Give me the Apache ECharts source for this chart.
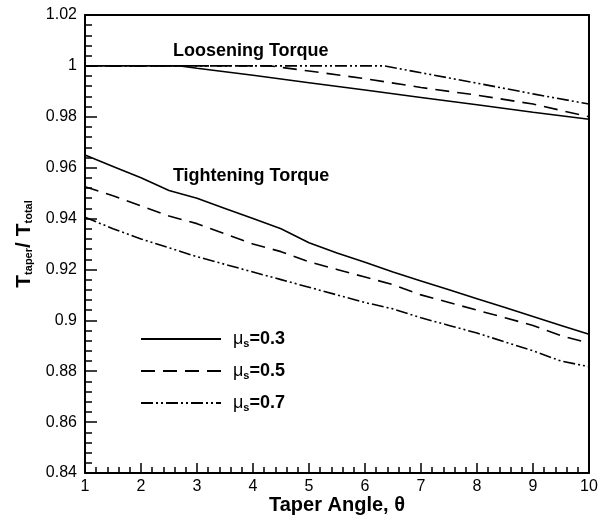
<!DOCTYPE html>
<html><head><meta charset="utf-8">
<script src="https://cdn.jsdelivr.net/npm/echarts@6/dist/echarts.min.js"></script>
<style>html,body{margin:0;padding:0;background:#fff}#c{width:606px;height:524px}</style>
</head><body><div id="c"></div>
<script>
// ---- data ----
var tightX = [1, 1.5, 2, 2.5, 3, 3.5, 4, 4.5, 5, 5.5, 6, 6.5, 7, 7.5, 8, 8.5, 9, 9.5, 10];
var tight03 = [0.965, 0.9605, 0.956, 0.951, 0.948, 0.944, 0.940, 0.936, 0.9305, 0.9265, 0.9228, 0.919, 0.9155, 0.912, 0.9085, 0.905, 0.9015, 0.898, 0.8945];
var tight05 = [0.9525, 0.949, 0.945, 0.941, 0.938, 0.934, 0.930, 0.927, 0.923, 0.920, 0.917, 0.914, 0.910, 0.907, 0.904, 0.901, 0.898, 0.894, 0.891];
var tight07 = [0.9405, 0.936, 0.932, 0.9285, 0.925, 0.922, 0.919, 0.916, 0.913, 0.910, 0.907, 0.9045, 0.901, 0.898, 0.895, 0.8915, 0.888, 0.884, 0.8818];
var looseX03 = [1, 2, 2.7, 3, 4, 5, 6, 7, 8, 9, 10];
var loose03 = [1, 1, 1, 0.9991, 0.9963, 0.9934, 0.9905, 0.9876, 0.9847, 0.9818, 0.979];
var looseX05 = [1, 2, 3, 4, 4.3, 5, 6, 7, 8, 9, 10];
var loose05 = [1, 1, 1, 1, 1, 0.998, 0.995, 0.9915, 0.9885, 0.985, 0.980];
var looseX07 = [1, 2, 3, 4, 5, 6, 6.35, 7, 8, 9, 10];
var loose07 = [1, 1, 1, 1, 1, 1, 1, 0.9973, 0.9932, 0.989, 0.985];
var seriesNames = ['\u03bcs=0.3', '\u03bcs=0.5', '\u03bcs=0.7'];
var legendLabels = ['0.3', '0.5', '0.7'];
var xMin = 1, xMax = 10, xStep = 1;
var yMin = 0.84, yMax = 1.02, yStep = 0.02;
var annotations = [
  {text: 'Loosening Torque', x: 2.57, y: 1.0055},
  {text: 'Tightening Torque', x: 2.57, y: 0.9565}
];
// ---- chart ----
function zip(xs, ys){ return xs.map(function(x,i){ return [x, ys[i]]; }); }
var dashTypes = ['solid', [14, 8], [12, 3, 2, 3, 2, 3]];
var FONT = '"Liberation Sans", Arial, sans-serif';
function mkSeries(name, data, k){
  return {
    name: name, type: 'line', data: data, showSymbol: false, symbol: 'none',
    animation: false, silent: true,
    lineStyle: {color: '#000', width: 1.6, type: dashTypes[k]},
    itemStyle: {color: '#000'}
  };
}
var series = [
  mkSeries(seriesNames[0], zip(tightX, tight03), 0),
  mkSeries(seriesNames[1], zip(tightX, tight05), 1),
  mkSeries(seriesNames[2], zip(tightX, tight07), 2),
  mkSeries(seriesNames[0], zip(looseX03, loose03), 0),
  mkSeries(seriesNames[1], zip(looseX05, loose05), 1),
  mkSeries(seriesNames[2], zip(looseX07, loose07), 2)
];
var chart = echarts.init(document.getElementById('c'), null, {renderer: 'canvas'});
var axisLine = {show: true, lineStyle: {color: '#000', width: 2}};
var option = {
  animation: false,
  backgroundColor: '#fff',
  textStyle: {fontFamily: FONT},
  grid: {left: 85, right: 17, top: 15, bottom: 51},
  legend: {
    left: 135, top: 325, orient: 'vertical', itemWidth: 80, itemHeight: 14, itemGap: 13,
    data: seriesNames,
    itemStyle: {opacity: 0, color: 'rgba(0,0,0,0)', borderWidth: 0},
    formatter: function(n){ var i = seriesNames.indexOf(n); return '{m|\u03bc}{s|s}{v|=' + legendLabels[i] + '}'; },
    textStyle: {
      fontFamily: FONT, color: '#000', padding: [0,0,0,7],
      rich: {
        m: {fontSize: 18, fontFamily: FONT, color: '#000'},
        s: {fontSize: 11, fontWeight: 'bold', fontFamily: FONT, color: '#000', padding: [9,0,0,0]},
        v: {fontSize: 18, fontWeight: 'bold', fontFamily: FONT, color: '#000'}
      }
    }
  },
  xAxis: [{
    type: 'value', min: xMin, max: xMax, interval: xStep,
    name: 'Taper Angle, \u03b8', nameLocation: 'middle', nameGap: 22, nameMoveOverlap: false,
    nameTextStyle: {fontSize: 20, fontWeight: 'bold', color: '#000', fontFamily: FONT},
    axisLine: axisLine,
    axisTick: {show: true, inside: true, length: 10, lineStyle: {color: '#000', width: 1.5}},
    minorTick: {show: true, splitNumber: 5, length: 6, lineStyle: {color: '#000', width: 1.5}},
    axisLabel: {fontSize: 16, color: '#000', margin: 6, fontFamily: FONT},
    splitLine: {show: false}
  }, {
    type: 'value', min: xMin, max: xMax, position: 'top',
    axisLine: axisLine, axisTick: {show: false}, axisLabel: {show: false}, splitLine: {show: false}
  }],
  yAxis: [{
    type: 'value', min: yMin, max: yMax, interval: yStep,
    name: '{t|T}{s|taper}{t|/ T}{s|total}', nameLocation: 'middle', nameRotate: 90, nameGap: 45,
    nameTextStyle: {
      color: '#000', fontFamily: FONT,
      rich: {
        t: {fontSize: 21, fontWeight: 'bold', fontFamily: FONT, color: '#000'},
        s: {fontSize: 11, fontWeight: 'bold', fontFamily: FONT, color: '#000', padding: [10,0,0,0]}
      }
    },
    axisLine: axisLine,
    axisTick: {show: true, inside: true, length: 12, lineStyle: {color: '#000', width: 1.5}},
    minorTick: {show: true, splitNumber: 5, length: 7, lineStyle: {color: '#000', width: 1.5}},
    axisLabel: {fontSize: 16, color: '#000', margin: 8, fontFamily: FONT,
      formatter: function(v){ return String(Math.round(v * 100) / 100); }},
    splitLine: {show: false}
  }, {
    type: 'value', min: yMin, max: yMax, position: 'right',
    axisLine: axisLine, axisTick: {show: false}, axisLabel: {show: false}, splitLine: {show: false}
  }],
  series: series
};
chart.setOption(option);
var g = annotations.map(function(a){
  var p = chart.convertToPixel({xAxisIndex: 0, yAxisIndex: 0}, [a.x, a.y]);
  return {type: 'text', left: p[0], top: p[1] - 10, silent: true,
    style: {text: a.text, fill: '#000', font: 'bold 18px ' + FONT}};
});
chart.setOption({graphic: g});
</script></body></html>
